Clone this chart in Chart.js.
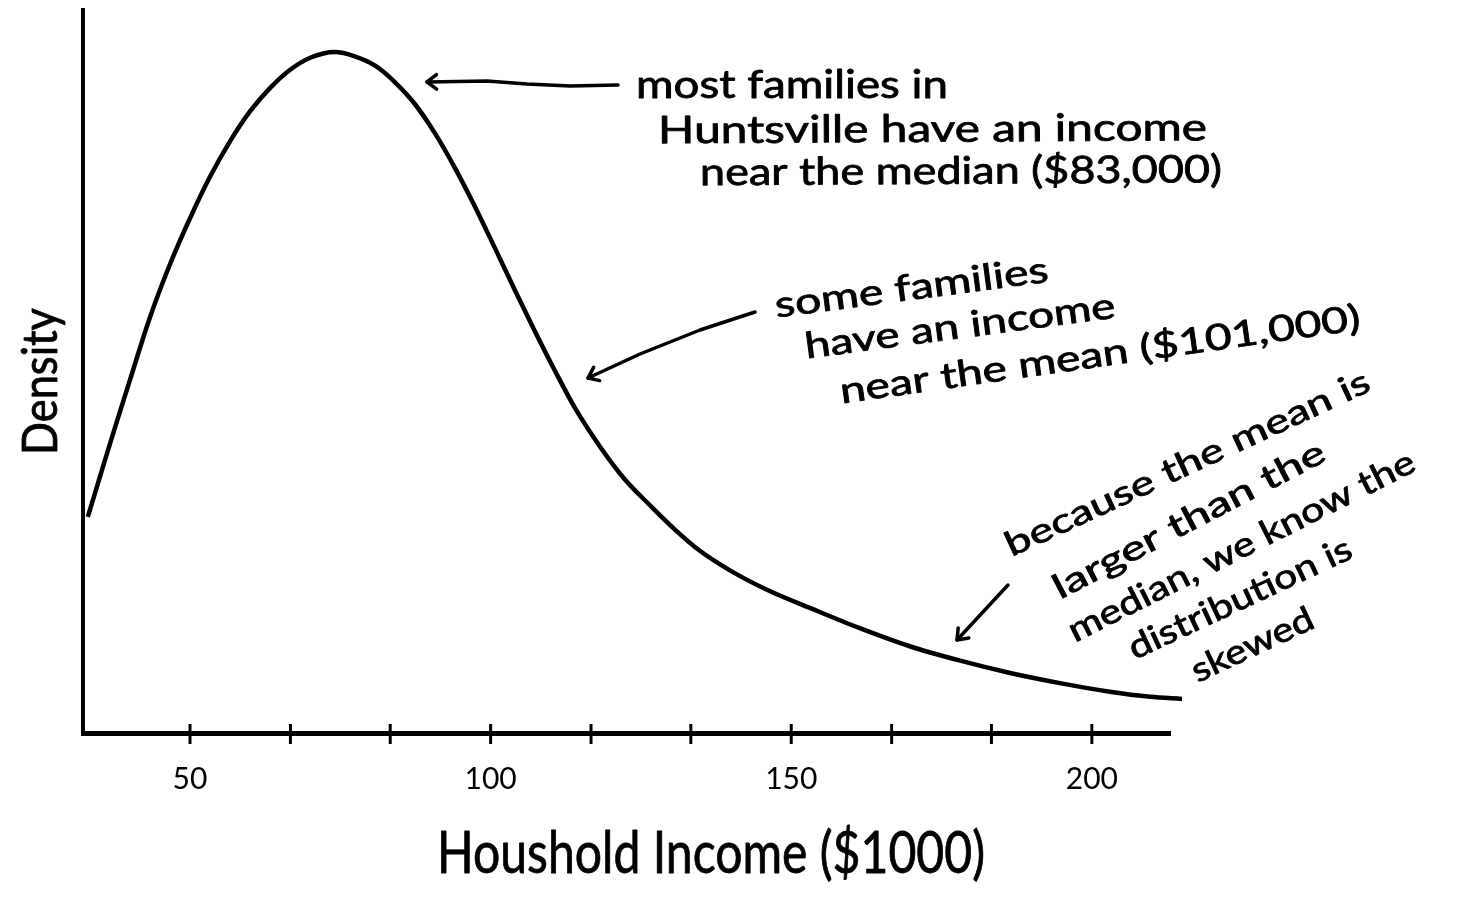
<!DOCTYPE html>
<html>
<head>
<meta charset="utf-8">
<script src="https://cdn.jsdelivr.net/npm/chart.js@4"></script>
<style>
  html, body { margin: 0; padding: 0; background: #fff; }
</style>
</head>
<body>
<canvas id="chart" width="1468" height="924"></canvas>
<script>
// household income in $1000 and relative density
const incomes = [33.0, 35.0, 37.5, 40.0, 43.3, 46.7, 50.0, 53.3, 56.7, 60.0, 63.3, 66.6, 70.0, 74.1,
                 77.4, 80.8, 84.1, 87.4, 90.7, 94.1, 97.4, 100.7, 104.0, 107.4, 110.7, 114.0, 118.2,
                 122.3, 126.5, 130.7, 134.8, 139.8, 146.5, 153.1, 161.4, 169.7, 178.1, 186.4, 194.7,
                 203.0, 209.7, 215.0];
const densities = [0.299, 0.354, 0.422, 0.488, 0.574, 0.649, 0.712, 0.769, 0.819, 0.860, 0.892, 0.917, 0.934, 0.942,
                   0.936, 0.923, 0.900, 0.870, 0.830, 0.781, 0.728, 0.671, 0.613, 0.555, 0.501, 0.450, 0.396,
                   0.351, 0.315, 0.281, 0.252, 0.225, 0.196, 0.173, 0.145, 0.120, 0.100, 0.083, 0.069,
                   0.057, 0.050, 0.047];

const tickValues = [50, 66.7, 83.3, 100, 116.7, 133.3, 150, 166.7, 183.3, 200];
const tickLabelValues = [50, 100, 150, 200];

const xTitle = 'Houshold Income ($1000)';
const yTitle = 'Density';

const noteMedian = ['most families in', 'Huntsville have an income', 'near the median ($83,000)'];
const noteMean = ['some families', 'have an income', 'near the mean ($101,000)'];
const noteSkew = ['because the mean is', 'larger than the', 'median, we know the', 'distribution is', 'skewed'];

const FONT = 'Lato, "Open Sans", sans-serif';

// draw a line of text between two points, stretched to fit like the handwriting
function drawFit(ctx, text, x0, y0, x1, y1, size) {
    const angle = Math.atan2(y1 - y0, x1 - x0);
    const len = Math.hypot(x1 - x0, y1 - y0);
    ctx.save();
    ctx.font = size + 'px ' + FONT;
    const w = ctx.measureText(text).width;
    ctx.translate(x0, y0);
    ctx.rotate(angle);
    ctx.scale(len / w, 1);
    ctx.textAlign = 'left';
    ctx.textBaseline = 'middle';
    ctx.fillStyle = '#000';
    ctx.strokeStyle = '#000';
    ctx.lineWidth = 0.8;
    ctx.lineJoin = 'round';
    ctx.fillText(text, 0, 0);
    ctx.strokeText(text, 0, 0);
    ctx.restore();
}

function arrow(ctx, pts) {
    ctx.save();
    ctx.strokeStyle = '#000';
    ctx.lineWidth = 3.5;
    ctx.lineCap = 'round';
    ctx.lineJoin = 'round';
    ctx.beginPath();
    ctx.moveTo(pts[0][0], pts[0][1]);
    for (let i = 1; i < pts.length; i++) {
        ctx.lineTo(pts[i][0], pts[i][1]);
    }
    ctx.stroke();
    const n = pts.length;
    const tip = pts[n - 1];
    const prev = pts[n - 2];
    const a = Math.atan2(tip[1] - prev[1], tip[0] - prev[0]);
    const h = 12;
    ctx.beginPath();
    ctx.moveTo(tip[0] - h * Math.cos(a - 0.65), tip[1] - h * Math.sin(a - 0.65));
    ctx.lineTo(tip[0], tip[1]);
    ctx.lineTo(tip[0] - h * Math.cos(a + 0.65), tip[1] - h * Math.sin(a + 0.65));
    ctx.stroke();
    ctx.restore();
}

const sketchPlugin = {
    id: 'sketch',
    afterDraw(chart) {
        const ctx = chart.ctx;
        const xs = chart.scales.x;
        const bottom = chart.chartArea.bottom;

        // tick marks crossing the axis
        ctx.save();
        ctx.strokeStyle = '#000';
        ctx.lineWidth = 3;
        for (const t of xs.ticks) {
            const px = xs.getPixelForValue(t.value);
            ctx.beginPath();
            ctx.moveTo(px, bottom - 9);
            ctx.lineTo(px, bottom + 11);
            ctx.stroke();
        }
        ctx.restore();

        // axis titles
        drawFit(ctx, xTitle, 437, 854, 985, 854, 58);
        drawFit(ctx, yTitle, 42, 455, 42, 308, 48);

        // note on the median
        drawFit(ctx, noteMedian[0], 636, 86, 948, 86, 38);
        drawFit(ctx, noteMedian[1], 658, 131, 1207, 128, 38);
        drawFit(ctx, noteMedian[2], 700, 173, 1222, 170, 38);
        arrow(ctx, [[618, 85], [570, 86], [527, 84], [487, 81], [427, 82]]);

        // note on the mean
        drawFit(ctx, noteMean[0], 775, 306, 1048, 270, 36);
        drawFit(ctx, noteMean[1], 805, 347, 1115, 306, 36);
        drawFit(ctx, noteMean[2], 840, 392, 1360, 318, 36);
        arrow(ctx, [[755, 312], [700, 330], [640, 354], [588, 378]]);

        // note on skew
        drawFit(ctx, noteSkew[0], 1007, 547, 1368, 380, 34);
        drawFit(ctx, noteSkew[1], 1055, 590, 1323, 450, 34);
        drawFit(ctx, noteSkew[2], 1070, 633, 1413, 460, 34);
        drawFit(ctx, noteSkew[3], 1130, 650, 1350, 547, 34);
        drawFit(ctx, noteSkew[4], 1193, 673, 1312, 617, 34);
        arrow(ctx, [[1008, 585], [957, 640]]);
    }
};

const ctx = document.getElementById('chart').getContext('2d');
const chart = new Chart(ctx, {
    type: 'line',
    data: {
        datasets: [{
            data: incomes.map((x, i) => ({x: x, y: densities[i]})),
            borderColor: '#000',
            borderWidth: 4.5,
            pointRadius: 0,
            fill: false,
            cubicInterpolationMode: 'monotone',
            clip: false
        }]
    },
    options: {
        responsive: false,
        devicePixelRatio: 1,
        animation: false,
        layout: {
            padding: {left: 0, top: 10, right: 298, bottom: 0}
        },
        plugins: {
            legend: {display: false},
            tooltip: {enabled: false}
        },
        scales: {
            x: {
                type: 'linear',
                min: 32.2,
                max: 213,
                afterBuildTicks: (scale) => {
                    scale.ticks = tickValues.map(v => ({value: v}));
                },
                afterFit: (scale) => {
                    scale.height = 191;
                },
                ticks: {
                    autoSkip: false,
                    maxRotation: 0,
                    padding: 28,
                    color: '#000',
                    font: {family: FONT, size: 30},
                    callback: (v) => tickLabelValues.includes(v) ? String(v) : ''
                },
                grid: {drawOnChartArea: false, drawTicks: false},
                border: {color: '#000', width: 5}
            },
            y: {
                min: 0,
                max: 1,
                afterFit: (scale) => {
                    scale.width = 83;
                },
                ticks: {display: false},
                grid: {drawOnChartArea: false, drawTicks: false},
                border: {color: '#000', width: 4}
            }
        }
    },
    plugins: [sketchPlugin]
});
</script>
</body>
</html>
